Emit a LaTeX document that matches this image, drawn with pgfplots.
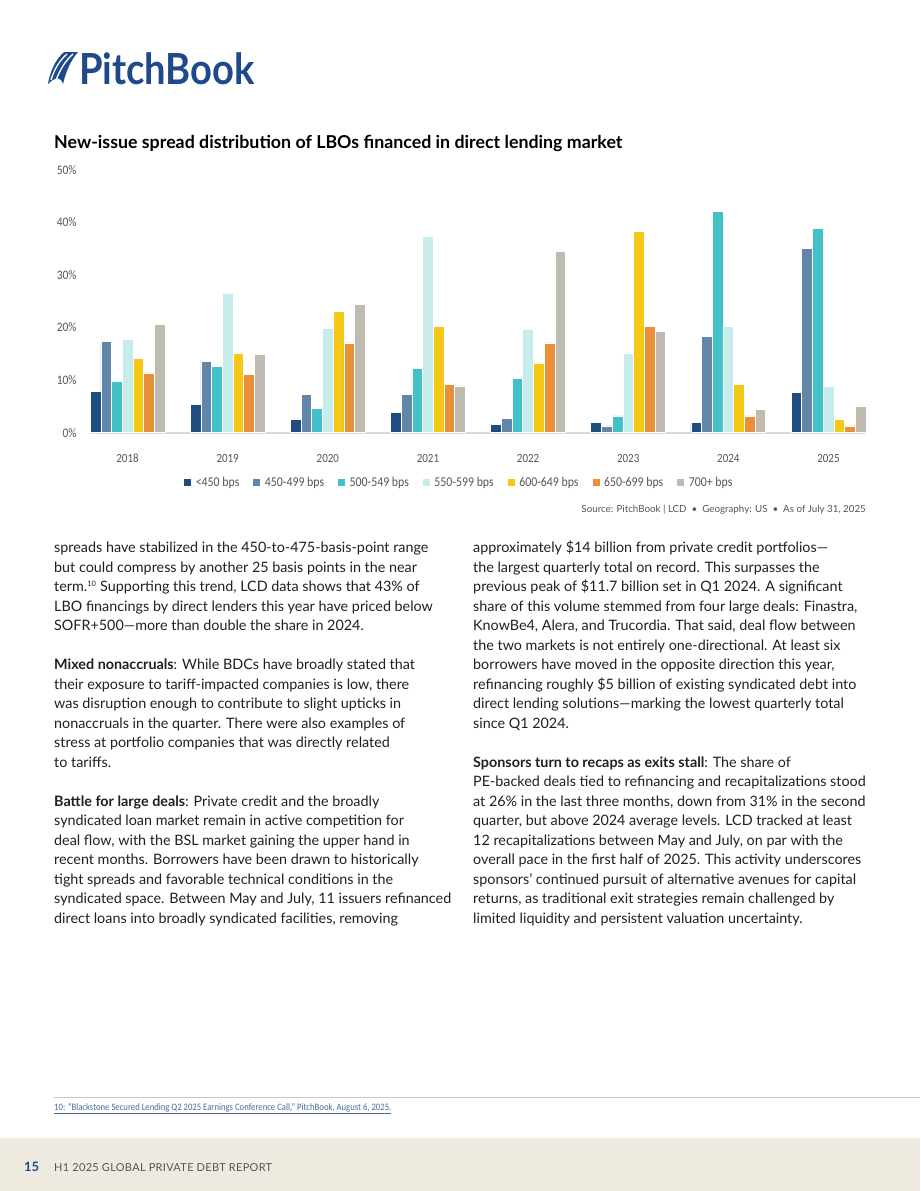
\documentclass[border=0pt]{standalone}
\usepackage{pgfplots}
\pgfplotsset{compat=1.18}
\usepackage{fontspec}
\setmainfont{Lato}
\newfontfamily\cond[FakeStretch=0.88]{Carlito}
\definecolor{c1}{HTML}{1F4E7E}
\definecolor{c2}{HTML}{6286A8}
\definecolor{c3}{HTML}{42C2C8}
\definecolor{c4}{HTML}{C6ECEB}
\definecolor{c5}{HTML}{F4C815}
\definecolor{c6}{HTML}{E88F38}
\definecolor{c7}{HTML}{BFBBB0}
\definecolor{navy}{HTML}{1F4A8A}
\definecolor{bodytext}{HTML}{231F20}
\definecolor{tickgray}{HTML}{555555}
\definecolor{axisgray}{HTML}{DCD9D2}
\definecolor{footbg}{HTML}{EEEAE0}
\definecolor{footlink}{HTML}{4A6A94}
\newcommand{\body}{\fontsize{14.4}{16}\selectfont}
\newcommand{\Ll}[2]{\node[anchor=base west,inner sep=0,font=\body,text=bodytext] at (54,{552.5+19.5*#1}) {#2};}
\newcommand{\Rl}[2]{\node[anchor=base west,inner sep=0,font=\body,text=bodytext] at (473,{552.5+19.5*#1}) {#2};}
\begin{document}
\begin{tikzpicture}
\begin{scope}[x=1bp,y=-1bp]
\fill[white] (0,0) rectangle (920,1191);
\fill[footbg] (0,1138) rectangle (920,1191);
% logo icon
\fill[navy] (48,84) .. controls (50,72) and (55,60) .. (64,52) -- (78,52) .. controls (71,60) and (66,71) .. (63,84)
  .. controls (61,77) and (56,76) .. (48,84) -- cycle;
\draw[white,line width=1.3bp] (51,80) .. controls (54,70) and (59,61) .. (67,54);
\draw[white,line width=1.3bp] (56,80) .. controls (60,70) and (65,61) .. (73,54);
\node[anchor=base west,inner sep=0,text=navy,font=\bfseries\fontsize{43}{45}\selectfont] at (79,84) {\scalebox{0.89}[1]{PitchBook}};
% title
\node[anchor=base west,inner sep=0,text=black,font=\bfseries\fontsize{17.85}{19}\selectfont] at (54,148.5) {New-issue spread distribution of LBOs financed in direct lending market};
% source
\node[anchor=base east,inner sep=0,text=tickgray,font=\fontsize{9.8}{11}\selectfont] at (866,512) {Source: PitchBook | LCD \ • \ Geography: US \ • \ As of July 31, 2025};
% left column
\Ll{0}{spreads have stabilized in the 450-to-475-basis-point range}
\Ll{1}{but could compress by another 25 basis points in the near}
\Ll{2}{term.\textsuperscript{\fontsize{7.5}{8}\selectfont 10} Supporting this trend, LCD data shows that 43\% of}
\Ll{3}{LBO financings by direct lenders this year have priced below}
\Ll{4}{SOFR+500—more than double the share in 2024.}
\Ll{6}{\textbf{Mixed nonaccruals}: While BDCs have broadly stated that}
\Ll{7}{their exposure to tariff-impacted companies is low, there}
\Ll{8}{was disruption enough to contribute to slight upticks in}
\Ll{9}{nonaccruals in the quarter. There were also examples of}
\Ll{10}{stress at portfolio companies that was directly related}
\Ll{11}{to tariffs.}
\Ll{13}{\textbf{Battle for large deals}: Private credit and the broadly}
\Ll{14}{syndicated loan market remain in active competition for}
\Ll{15}{deal flow, with the BSL market gaining the upper hand in}
\Ll{16}{recent months. Borrowers have been drawn to historically}
\Ll{17}{tight spreads and favorable technical conditions in the}
\Ll{18}{syndicated space. Between May and July, 11 issuers refinanced}
\Ll{19}{direct loans into broadly syndicated facilities, removing}
% right column
\Rl{0}{approximately \$14 billion from private credit portfolios—}
\Rl{1}{the largest quarterly total on record. This surpasses the}
\Rl{2}{previous peak of \$11.7 billion set in Q1 2024. A significant}
\Rl{3}{share of this volume stemmed from four large deals: Finastra,}
\Rl{4}{KnowBe4, Alera, and Trucordia. That said, deal flow between}
\Rl{5}{the two markets is not entirely one-directional. At least six}
\Rl{6}{borrowers have moved in the opposite direction this year,}
\Rl{7}{refinancing roughly \$5 billion of existing syndicated debt into}
\Rl{8}{direct lending solutions—marking the lowest quarterly total}
\Rl{9}{since Q1 2024.}
\Rl{11}{\textbf{Sponsors turn to recaps as exits stall}: The share of}
\Rl{12}{PE-backed deals tied to refinancing and recapitalizations stood}
\Rl{13}{at 26\% in the last three months, down from 31\% in the second}
\Rl{14}{quarter, but above 2024 average levels. LCD tracked at least}
\Rl{15}{12 recapitalizations between May and July, on par with the}
\Rl{16}{overall pace in the first half of 2025. This activity underscores}
\Rl{17}{sponsors’ continued pursuit of alternative avenues for capital}
\Rl{18}{returns, as traditional exit strategies remain challenged by}
\Rl{19}{limited liquidity and persistent valuation uncertainty.}
% footnote
\draw[draw=black!22,line width=0.8bp] (54,1097) -- (920,1097);
\node[anchor=base west,inner sep=0,text=footlink,font=\cond\fontsize{9.9}{11}\selectfont] at (54,1110) {\underline{10: “Blackstone Secured Lending Q2 2025 Earnings Conference Call,” PitchBook, August 6, 2025.}};
% footer
\node[anchor=base west,inner sep=0,text=c1,font=\bfseries\fontsize{13}{15}\selectfont] at (24,1171) {15};
\node[anchor=base west,inner sep=0,text=tickgray,font=\addfontfeatures{LetterSpace=3}\fontsize{11}{13}\selectfont] at (54,1171) {H1 2025 GLOBAL PRIVATE DEBT REPORT};
\end{scope}
\begin{axis}[
  at={(90bp,-432.7bp)}, anchor=south west,
  scale only axis, width=776bp, height=262.7bp,
  xmin=-0.375, xmax=7.375, ymin=0, ymax=50,
  ybar=0pt, bar width=10.7bp,
  axis line style={draw=none},
  major tick length=0pt,
  xtick={0,1,2,3,4,5,6,7},
  xticklabels={2018,2019,2020,2021,2022,2023,2024,2025},
  ytick={0,10,20,30,40,50},
  /pgf/number format/assume math mode=true,
  yticklabel={\pgfmathprintnumber{\tick}\%},
  ticklabel style={font=\cond\fontsize{12.5}{14}\selectfont, text=tickgray},
  xticklabel style={yshift=-18bp},
  yticklabel style={font=\cond\fontsize{13}{14}\selectfont, xshift=-10bp},
  every axis plot/.append style={draw=white, line width=0.6bp},
  legend style={at={(axis description cs:0.476,-0.188)}, anchor=center, draw=none, fill=none,
    font=\cond\fontsize{13.5}{15}\selectfont, text=tickgray, legend columns=-1,
    /tikz/every even column/.append style={column sep=12bp}},
  legend image code/.code={\fill[#1,draw=none] (0bp,-3.5bp) rectangle (7bp,3.5bp); \path[draw=none,fill=none] (0bp,0bp) -- (9.5bp,0bp);},
  clip=false,
]
\draw[axisgray, line width=1.6bp] (axis cs:-0.375,0) -- (axis cs:7.375,0);
\addplot[fill=c1] coordinates {(0,7.9) (1,5.4) (2,2.5) (3,3.8) (4,1.6) (5,1.9) (6,1.9) (7,7.6)};
\addplot[fill=c2] coordinates {(0,17.4) (1,13.6) (2,7.3) (3,7.3) (4,2.8) (5,1.3) (6,18.4) (7,35.1)};
\addplot[fill=c3] coordinates {(0,9.8) (1,12.7) (2,4.7) (3,12.3) (4,10.4) (5,3.2) (6,42.1) (7,38.9)};
\addplot[fill=c4] coordinates {(0,17.7) (1,26.6) (2,19.9) (3,37.3) (4,19.6) (5,15.2) (6,20.3) (7,8.9)};
\addplot[fill=c5] coordinates {(0,14.2) (1,15.2) (2,23.1) (3,20.3) (4,13.3) (5,38.3) (6,9.2) (7,2.5)};
\addplot[fill=c6] coordinates {(0,11.4) (1,11.1) (2,17.1) (3,9.2) (4,17.1) (5,20.3) (6,3.2) (7,1.3)};
\addplot[fill=c7] coordinates {(0,20.6) (1,14.9) (2,24.4) (3,8.9) (4,34.6) (5,19.3) (6,4.4) (7,5.1)};
\legend{<450 bps,450-499 bps,500-549 bps,550-599 bps,600-649 bps,650-699 bps,700+ bps}
\end{axis}
\end{tikzpicture}
\end{document}
